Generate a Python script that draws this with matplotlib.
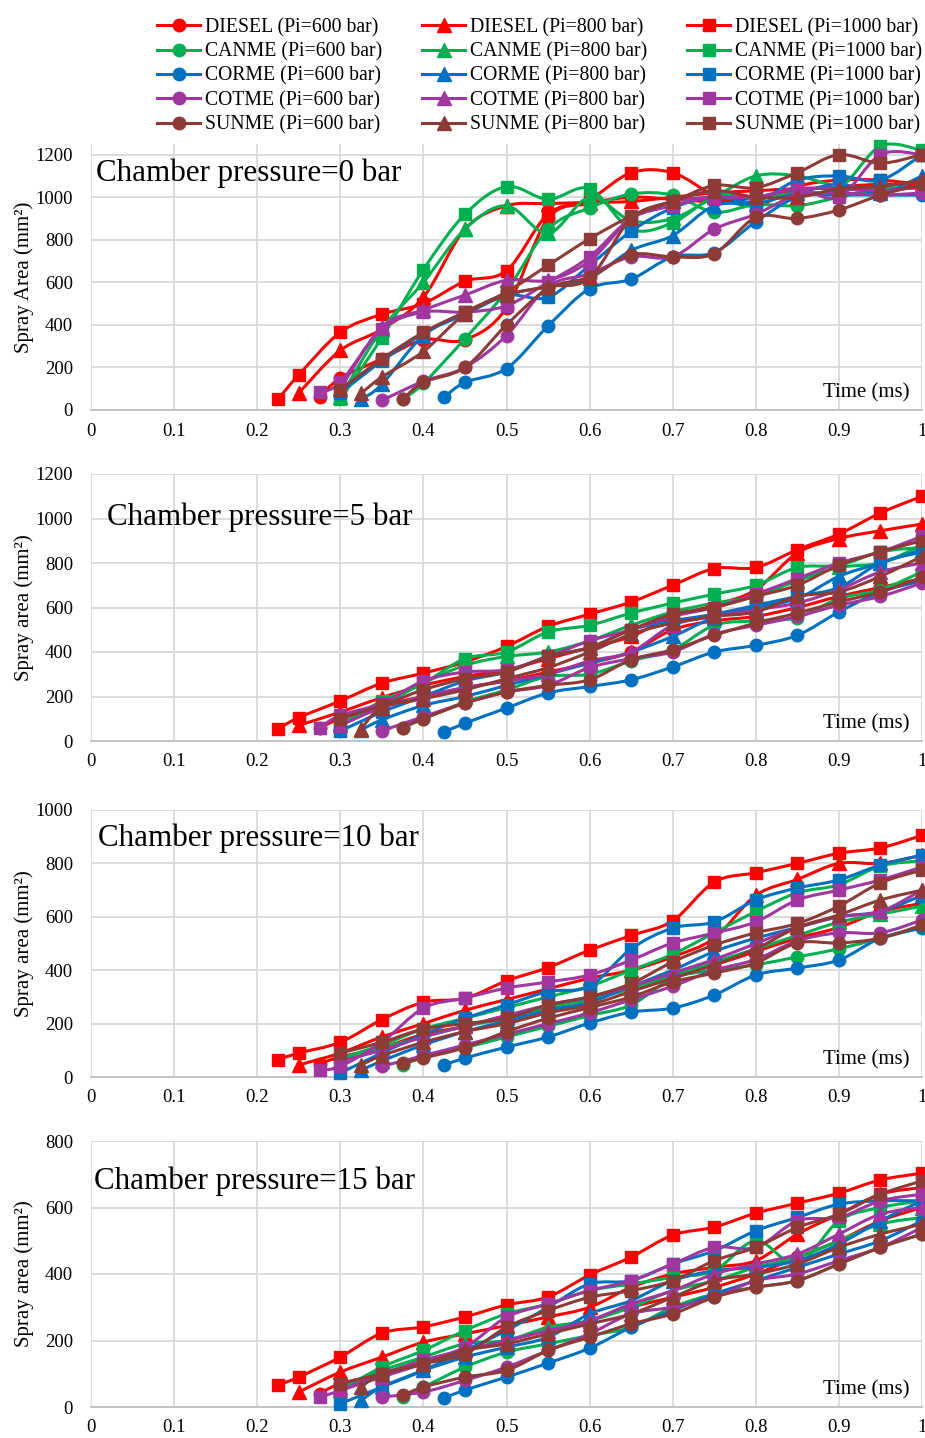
"""
Spray area vs. time for diesel and four methyl esters, at three injection
pressures and four chamber pressures (0, 5, 10, 15 bar).
"""

import matplotlib
matplotlib.use("Agg")
import matplotlib.pyplot as plt
from matplotlib.lines import Line2D
from matplotlib.path import Path
from matplotlib.patches import PathPatch

plt.rcParams["font.family"] = ["Liberation Serif", "DejaVu Serif"]

FUELS = ["DIESEL", "CANME", "CORME", "COTME", "SUNME"]
INJ_PRESSURES = [600, 800, 1000]
CHAMBER_PRESSURES = [0, 5, 10, 15]

# time grid after the first frame (ms)
TIME_GRID = [0.25, 0.3, 0.35, 0.4, 0.45, 0.5, 0.55, 0.6, 0.65, 0.7,
             0.75, 0.8, 0.85, 0.9, 0.95, 1.0]

# first visible frame of each series (ms), by (fuel, Pi)
START = {
    ("DIESEL", 600): 0.275, ("DIESEL", 800): 0.25, ("DIESEL", 1000): 0.225,
    ("CANME", 600): 0.375, ("CANME", 800): 0.3, ("CANME", 1000): 0.3,
    ("CORME", 600): 0.425, ("CORME", 800): 0.325, ("CORME", 1000): 0.3,
    ("COTME", 600): 0.35, ("COTME", 800): 0.3, ("COTME", 1000): 0.275,
    ("SUNME", 600): 0.375, ("SUNME", 800): 0.325, ("SUNME", 1000): 0.3,
}

# spray area (mm2), chamber pressure = 0 bar
AREA_0 = {
    ("DIESEL", 600): [60, 150, 240, 330, 330, 480, 900, 970, 1000, 990, 980, 1000, 1030, 1050, 1060, 1060],
    ("DIESEL", 800): [80, 280, 380, 530, 850, 960, 970, 975, 980, 1000, 1020, 1030, 1040, 1040, 1030, 1060],
    ("DIESEL", 1000): [50, 165, 365, 450, 500, 605, 655, 920, 990, 1115, 1115, 1010, 960, 1050, 1080, 1080, 1060],
    ("CANME", 600): [50, 125, 335, 560, 850, 950, 1015, 1010, 930, 965, 960, 1000, 1040, 1040],
    ("CANME", 800): [60, 380, 600, 850, 960, 830, 1000, 890, 900, 1000, 1100, 1100, 1050, 1050, 1080],
    ("CANME", 1000): [50, 340, 660, 920, 1050, 990, 1040, 850, 880, 1000, 1000, 1020, 1040, 1240, 1220],
    ("CORME", 600): [60, 130, 195, 395, 570, 615, 720, 740, 885, 1000, 1010, 1010, 1010],
    ("CORME", 800): [50, 120, 350, 450, 540, 580, 620, 750, 820, 960, 970, 1020, 1060, 1020, 1100],
    ("CORME", 1000): [80, 230, 360, 460, 540, 530, 680, 840, 950, 1000, 980, 1080, 1100, 1080, 1200],
    ("COTME", 600): [45, 135, 200, 350, 580, 640, 720, 720, 850, 920, 1010, 1020, 1010, 1020],
    ("COTME", 800): [100, 390, 470, 540, 610, 610, 700, 900, 980, 1000, 1000, 1040, 1040, 1030, 1050],
    ("COTME", 1000): [85, 130, 380, 460, 460, 490, 600, 720, 900, 960, 1000, 1000, 1040, 1000, 1200, 1200],
    ("SUNME", 600): [50, 130, 200, 400, 570, 625, 730, 720, 735, 905, 900, 940, 1010, 1060],
    ("SUNME", 800): [78, 155, 275, 450, 540, 580, 620, 900, 980, 1030, 1000, 1000, 1040, 1050, 1080],
    ("SUNME", 1000): [95, 240, 365, 460, 555, 680, 805, 910, 980, 1055, 1045, 1115, 1200, 1160, 1200],
}

# chamber pressure = 5 bar
AREA_5 = {
    ("DIESEL", 600): [60, 100, 160, 200, 240, 270, 310, 350, 400, 500, 540, 560, 600, 650, 690, 730],
    ("DIESEL", 800): [70, 130, 195, 250, 290, 320, 370, 420, 470, 560, 610, 680, 845, 910, 945, 975],
    ("DIESEL", 1000): [55, 105, 180, 260, 305, 355, 425, 515, 570, 625, 700, 775, 780, 860, 930, 1025, 1100],
    ("CANME", 600): [60, 100, 175, 230, 290, 300, 360, 410, 520, 540, 555, 640, 680, 760],
    ("CANME", 800): [80, 160, 260, 340, 380, 400, 450, 520, 580, 620, 650, 720, 780, 800, 880],
    ("CANME", 1000): [70, 180, 260, 370, 400, 490, 520, 575, 620, 660, 700, 780, 790, 850, 870],
    ("CORME", 600): [40, 80, 148, 216, 245, 275, 333, 400, 430, 475, 580, 670, 720],
    ("CORME", 800): [50, 95, 160, 200, 250, 300, 350, 400, 470, 555, 600, 640, 740, 800, 860],
    ("CORME", 1000): [45, 130, 200, 270, 310, 380, 420, 500, 540, 570, 610, 650, 690, 800, 850],
    ("COTME", 600): [45, 110, 170, 220, 250, 330, 370, 400, 480, 520, 560, 610, 650, 710],
    ("COTME", 800): [70, 150, 200, 240, 270, 300, 360, 400, 520, 560, 590, 620, 680, 760, 800],
    ("COTME", 1000): [60, 115, 170, 270, 310, 320, 380, 450, 500, 560, 600, 660, 730, 800, 850, 920],
    ("SUNME", 600): [60, 100, 170, 220, 250, 275, 365, 410, 475, 530, 575, 625, 670, 735],
    ("SUNME", 800): [55, 150, 190, 230, 280, 330, 400, 480, 530, 560, 580, 650, 670, 740, 830],
    ("SUNME", 1000): [100, 160, 230, 280, 310, 380, 420, 500, 570, 600, 650, 700, 790, 850, 900],
}

# chamber pressure = 10 bar
AREA_10 = {
    ("DIESEL", 600): [50, 75, 110, 160, 190, 230, 260, 300, 340, 380, 420, 470, 520, 560, 620, 650],
    ("DIESEL", 800): [45, 90, 150, 200, 250, 290, 330, 370, 400, 450, 520, 680, 740, 800, 800, 830],
    ("DIESEL", 1000): [65, 90, 130, 215, 280, 295, 360, 410, 475, 530, 585, 730, 765, 800, 838, 858, 905],
    ("CANME", 600): [45, 75, 110, 150, 190, 230, 270, 370, 400, 420, 450, 480, 520, 560],
    ("CANME", 800): [60, 110, 150, 190, 220, 260, 290, 330, 380, 430, 480, 530, 580, 610, 640],
    ("CANME", 1000): [70, 120, 180, 220, 260, 300, 340, 400, 460, 540, 620, 690, 720, 790, 810],
    ("CORME", 600): [45, 71, 112, 150, 202, 243, 258, 307, 382, 408, 438, 520, 558],
    ("CORME", 800): [25, 60, 120, 170, 210, 250, 280, 340, 400, 470, 520, 560, 600, 620, 680],
    ("CORME", 1000): [15, 90, 160, 220, 270, 320, 340, 480, 558, 581, 663, 708, 738, 794, 831],
    ("COTME", 600): [40, 80, 120, 160, 200, 240, 290, 340, 400, 440, 510, 540, 540, 588],
    ("COTME", 800): [60, 100, 150, 190, 230, 270, 300, 340, 390, 440, 500, 560, 600, 620, 700],
    ("COTME", 1000): [26, 40, 130, 258, 296, 333, 356, 382, 438, 502, 539, 581, 663, 700, 738, 787],
    ("SUNME", 600): [52, 71, 110, 170, 220, 260, 300, 356, 389, 427, 502, 502, 520, 569],
    ("SUNME", 800): [45, 80, 130, 170, 200, 240, 270, 320, 370, 420, 480, 560, 607, 663, 700],
    ("SUNME", 1000): [90, 130, 180, 200, 220, 270, 300, 350, 431, 494, 540, 575, 640, 727, 775],
}

# chamber pressure = 15 bar
AREA_15 = {
    ("DIESEL", 600): [40, 70, 100, 140, 170, 200, 230, 260, 300, 330, 360, 400, 450, 500, 560, 600],
    ("DIESEL", 800): [45, 105, 150, 195, 220, 245, 271, 300, 360, 400, 420, 440, 520, 580, 640, 660],
    ("DIESEL", 1000): [66, 90, 150, 222, 241, 271, 307, 331, 397, 451, 517, 541, 583, 613, 643, 683, 703],
    ("CANME", 600): [30, 60, 120, 165, 190, 215, 240, 300, 340, 360, 380, 430, 480, 520],
    ("CANME", 800): [60, 110, 150, 190, 200, 240, 260, 300, 350, 380, 420, 450, 500, 550, 570],
    ("CANME", 1000): [50, 120, 170, 230, 280, 310, 350, 370, 390, 410, 500, 430, 560, 600, 620],
    ("CORME", 600): [27, 51, 90, 132, 177, 240, 290, 340, 380, 420, 460, 500, 560],
    ("CORME", 800): [20, 60, 110, 150, 180, 210, 280, 320, 380, 410, 420, 440, 490, 560, 620],
    ("CORME", 1000): [10, 60, 110, 170, 230, 300, 370, 380, 430, 470, 530, 570, 610, 620, 620],
    ("COTME", 600): [30, 45, 80, 120, 170, 220, 280, 300, 330, 380, 400, 440, 480, 540],
    ("COTME", 800): [50, 90, 130, 170, 200, 230, 260, 310, 350, 400, 430, 460, 520, 580, 600],
    ("COTME", 1000): [30, 50, 100, 140, 180, 270, 310, 350, 380, 430, 480, 480, 560, 570, 620, 640],
    ("SUNME", 600): [35, 60, 90, 110, 170, 210, 250, 280, 330, 360, 380, 430, 480, 520],
    ("SUNME", 800): [60, 100, 130, 170, 190, 220, 250, 280, 330, 380, 400, 430, 480, 520, 550],
    ("SUNME", 1000): [70, 100, 130, 160, 240, 290, 330, 350, 380, 440, 480, 540, 580, 640, 680],
}

AREAS = [AREA_0, AREA_5, AREA_10, AREA_15]
Y_MAX = [1250, 1200, 1000, 800]
Y_LABELS = ["Spray Area (mm\u00b2)", "Spray area (mm\u00b2)",
            "Spray area (mm\u00b2)", "Spray area (mm\u00b2)"]

COLORS = {"DIESEL": "#FF0000", "CANME": "#00B050", "CORME": "#0070C0",
          "COTME": "#A0369F", "SUNME": "#8E3A36"}
MARKERS = {600: "o", 800: "^", 1000: "s"}
MSIZE = {600: 9, 800: 9.5, 1000: 9}
LW = 2.2

W, H = 925, 1438
# (top, bottom) of each panel in pixels, and title position
PANELS = [(144, 410), (474, 741), (810, 1077), (1141, 1407)]
TITLE_POS = [(96, 173), (107, 517), (98, 838), (94, 1181)]


def series_times(start):
    return [start] + [t for t in TIME_GRID if t > start + 1e-9]


def smooth_path(x, y):
    """Excel-style smoothed line: cubic Bezier through every point."""
    n = len(x)
    verts = [(x[0], y[0])]
    codes = [Path.MOVETO]
    for i in range(n - 1):
        i0, i3 = max(i - 1, 0), min(i + 2, n - 1)
        c1 = (x[i] + (x[i + 1] - x[i0]) / 6, y[i] + (y[i + 1] - y[i0]) / 6)
        c2 = (x[i + 1] - (x[i3] - x[i]) / 6, y[i + 1] - (y[i3] - y[i]) / 6)
        verts += [c1, c2, (x[i + 1], y[i + 1])]
        codes += [Path.CURVE4] * 3
    return Path(verts, codes)


def draw_panel(ax, areas, ymax, ylabel, chamber):
    z = 3
    for fuel in FUELS:
        for pi in INJ_PRESSURES:
            y = areas[(fuel, pi)]
            x = series_times(START[(fuel, pi)])
            if len(x) != len(y):
                raise ValueError(f"{fuel} {pi} {chamber}: {len(x)} != {len(y)}")
            ax.add_patch(PathPatch(smooth_path(x, y), facecolor="none",
                                   edgecolor=COLORS[fuel], lw=LW,
                                   clip_on=False, zorder=z,
                                   capstyle="round", joinstyle="round"))
            ax.plot(x, y, ls="none", color=COLORS[fuel], marker=MARKERS[pi],
                    ms=MSIZE[pi], clip_on=False, zorder=z)
            z += 0.01

    ax.set_xlim(0, 1)
    ax.set_ylim(0, ymax)
    ax.set_xticks([i / 10 for i in range(11)])
    ax.set_xticklabels(["0", "0.1", "0.2", "0.3", "0.4", "0.5", "0.6",
                        "0.7", "0.8", "0.9", "1"])
    ax.set_yticks(list(range(0, int(ymax) + 1, 200)))
    ax.grid(True, color="#d9d9d9", lw=1.3, zorder=0)
    ax.set_axisbelow(True)
    for side in ["top", "right", "left"]:
        ax.spines[side].set_visible(False)
    ax.spines["bottom"].set_color("#bfbfbf")
    ax.spines["bottom"].set_linewidth(1.3)
    ax.tick_params(length=0, labelsize=13.5)
    ax.tick_params(axis="y", pad=13)
    ax.tick_params(axis="x", pad=9)
    ax.set_ylabel(ylabel, fontsize=15)
    ax.yaxis.set_label_coords(-0.069, 0.5)
    ax.text(0.985, 0.03, "Time (ms)", transform=ax.transAxes,
            ha="right", va="bottom", fontsize=15)


def main():
    fig = plt.figure(figsize=(W / 100, H / 100), dpi=100)

    for i, (top, bottom) in enumerate(PANELS):
        ax = fig.add_axes([91 / W, 1 - bottom / H, (922 - 91) / W,
                           (bottom - top) / H])
        draw_panel(ax, AREAS[i], Y_MAX[i], Y_LABELS[i], CHAMBER_PRESSURES[i])
        tx, ty = TITLE_POS[i]
        fig.text(tx / W, 1 - ty / H,
                 f"Chamber pressure={CHAMBER_PRESSURES[i]} bar",
                 ha="left", va="center", fontsize=22.3)

    # legend filled column by column: one column per injection pressure
    handles, labels = [], []
    for pi in INJ_PRESSURES:
        for fuel in FUELS:
            handles.append(Line2D([], [], color=COLORS[fuel], lw=LW,
                                  marker=MARKERS[pi], ms=MSIZE[pi]))
            labels.append(f"{fuel} (Pi={pi} bar)")
    fig.legend(handles, labels, ncol=3, loc="upper left",
               bbox_to_anchor=(147 / W, 1 - 8 / H), frameon=False,
               fontsize=14.2, handlelength=2.2, handletextpad=0.25,
               columnspacing=2.0, labelspacing=0.26, borderpad=0)

    fig.savefig("out.png", dpi=100)


main()
